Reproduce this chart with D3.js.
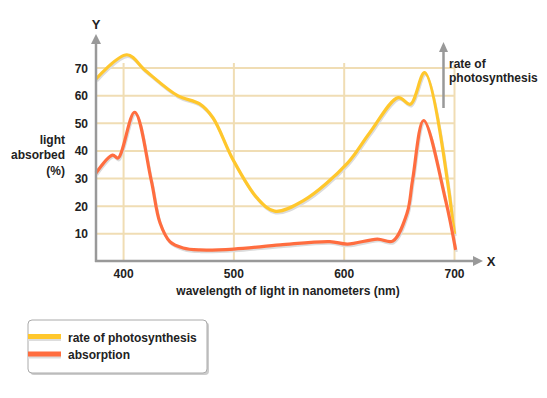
<!DOCTYPE html>
<html>
<head>
<meta charset="utf-8">
<script src="https://cdn.jsdelivr.net/npm/d3@7/dist/d3.min.js"></script>
<style>
	body { margin: 0; background: #fff; }
	text { font-family: "Liberation Sans", Arial, sans-serif; font-weight: bold; fill: #222; }
</style>
</head>
<body>
<svg id="chart" width="547" height="398"></svg>
<script>
	//chart values
var xTicks = [400, 500, 600, 700];
var yTicks = [10, 20, 30, 40, 50, 60, 70];

var photoWave = [375, 403, 420, 449, 469, 481, 499, 521, 537, 563, 603, 623, 649, 660, 673, 700];
var photoRate = [66, 74.8, 69, 60, 57, 52, 37, 23, 18.2, 22, 35.6, 46.5, 59.3, 56.9, 68.3, 10];

var absWave = [375, 390, 395, 410, 425, 433, 442, 454, 469, 500, 542, 587, 603, 630, 644, 657, 662, 672, 692, 701];
var absValue = [32, 38.5, 37.4, 54, 29.5, 14, 7.2, 4.9, 4.2, 4.5, 6, 7.2, 6.3, 8.1, 7.4, 17.5, 29.5, 51, 22, 4.2];

var seriesNames = ['rate of photosynthesis', 'absorption'];
var seriesColors = ['#ffc72c', '#ff6d3f'];

var svg = d3.select('#chart');

var x = d3.scaleLinear().domain([375, 700]).range([96, 454.5]);
var y = d3.scaleLinear().domain([0, 70]).range([261.5, 68]);

	//grid
var grid = svg.append('g');
grid.selectAll('.hgrid')
	.data(yTicks)
	.enter().append('line')
	.attr('x1', 96).attr('x2', x(700))
	.attr('y1', function(d) { return y(d); })
	.attr('y2', function(d) { return y(d); })
	.attr('stroke', '#f0ddb4').attr('stroke-width', 2);

grid.selectAll('.vgrid')
	.data(xTicks)
	.enter().append('line')
	.attr('x1', function(d) { return x(d); })
	.attr('x2', function(d) { return x(d); })
	.attr('y1', 63).attr('y2', 261)
	.attr('stroke', '#f0ddb4').attr('stroke-width', 2);

	//lines with shadow
function drawSeries(xs, ys, color) {
	var pts = xs.map(function(d, i) { return [d, ys[i]]; });
	var line = d3.line()
		.x(function(d) { return x(d[0]); })
		.y(function(d) { return y(d[1]); })
		.curve(d3.curveCatmullRom.alpha(0.5));

	svg.append('path')
		.attr('d', line(pts))
		.attr('transform', 'translate(1,2)')
		.attr('fill', 'none')
		.attr('stroke', '#dcdcdc')
		.attr('stroke-width', 2.5);

	svg.append('path')
		.attr('d', line(pts))
		.attr('fill', 'none')
		.attr('stroke', color)
		.attr('stroke-width', 3.2)
		.attr('stroke-linejoin', 'round');
}

drawSeries(photoWave, photoRate, seriesColors[0]);
drawSeries(absWave, absValue, seriesColors[1]);

	//axes
var axisColor = '#999';
svg.append('line')
	.attr('x1', 96).attr('x2', 96).attr('y1', 262).attr('y2', 42)
	.attr('stroke', axisColor).attr('stroke-width', 2.5);
svg.append('path')
	.attr('d', 'M96,34 L91,44 L101,44 Z')
	.attr('fill', axisColor);
svg.append('line')
	.attr('x1', 95).attr('x2', 474).attr('y1', 261).attr('y2', 261)
	.attr('stroke', axisColor).attr('stroke-width', 2.5);
svg.append('path')
	.attr('d', 'M483,261 L473,256 L473,266 Z')
	.attr('fill', axisColor);

svg.append('text').attr('x', 96).attr('y', 29)
	.attr('text-anchor', 'middle').style('font-size', '13px').text('Y');
svg.append('text').attr('x', 491).attr('y', 266)
	.attr('text-anchor', 'middle').style('font-size', '13px').text('X');

svg.selectAll('.ytick')
	.data(yTicks)
	.enter().append('text')
	.attr('x', 88)
	.attr('y', function(d) { return y(d) + 4.5; })
	.attr('text-anchor', 'end')
	.style('font-size', '12px')
	.text(function(d) { return d; });

svg.selectAll('.xtick')
	.data(xTicks)
	.enter().append('text')
	.attr('x', function(d) { return x(d); })
	.attr('y', 277.5)
	.attr('text-anchor', 'middle')
	.style('font-size', '12px')
	.text(function(d) { return d; });

svg.append('text').attr('x', 288).attr('y', 295)
	.attr('text-anchor', 'middle').style('font-size', '12px')
	.text('wavelength of light in nanometers (nm)');

var yTitle = ['light', 'absorbed', '(%)'];
svg.selectAll('.ytitle')
	.data(yTitle)
	.enter().append('text')
	.attr('x', 65)
	.attr('y', function(d, i) { return 143.5 + i * 15.5; })
	.attr('text-anchor', 'end')
	.style('font-size', '12px')
	.text(function(d) { return d; });

	//rate of photosynthesis arrow
svg.append('line')
	.attr('x1', 443.5).attr('x2', 443.5).attr('y1', 108).attr('y2', 50)
	.attr('stroke', axisColor).attr('stroke-width', 2.5);
svg.append('path')
	.attr('d', 'M443.5,42 L439,52 L448,52 Z')
	.attr('fill', axisColor);
svg.append('text').attr('x', 449).attr('y', 68)
	.style('font-size', '12px').text('rate of');
svg.append('text').attr('x', 449).attr('y', 82)
	.style('font-size', '12px').text('photosynthesis');

	//legend
var legend = svg.append('g');
legend.append('rect')
	.attr('x', 30).attr('y', 322).attr('width', 179).attr('height', 53).attr('rx', 4)
	.attr('fill', '#ccc');
legend.append('rect')
	.attr('x', 28).attr('y', 320).attr('width', 179).attr('height', 53).attr('rx', 4)
	.attr('fill', '#fff').attr('stroke', '#aaa').attr('stroke-width', 1);

seriesNames.forEach(function(name, i) {
	var ly = 337 + i * 17.5;
	legend.append('rect')
		.attr('x', 28).attr('y', ly - 1).attr('width', 33).attr('height', 5)
		.attr('fill', '#ddd');
	legend.append('rect')
		.attr('x', 28).attr('y', ly - 3).attr('width', 33).attr('height', 5)
		.attr('fill', seriesColors[i]);
	legend.append('text')
		.attr('x', 68).attr('y', ly + 4.5)
		.style('font-size', '12px')
		.text(name);
});
</script>
</body>
</html>
